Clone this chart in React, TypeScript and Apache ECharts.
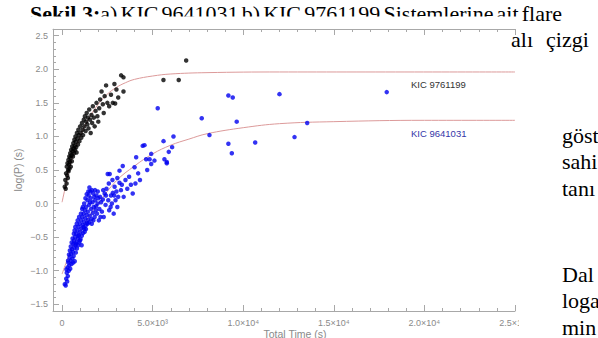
import React, { useEffect, useRef } from "react";
import * as echarts from "echarts";

const xTickValues = [0, 5000, 10000, 15000, 20000, 25000];
const xTickLabels = ["0", "5.0×10³", "1.0×10⁴", "1.5×10⁴", "2.0×10⁴", "2.5×10⁴"];
const yTickValues = [-1.5, -1.0, -0.5, 0.0, 0.5, 1.0, 1.5, 2.0, 2.5];
const yTickLabels = ["−1.5", "−1.0", "−0.5", "0.0", "0.5", "1.0", "1.5", "2.0", "2.5"];

// KIC 9761199 (black)
const blackPoints: [number, number][] = [
  [150, 0.25], [180, 0.35], [200, 0.22], [220, 0.45], [250, 0.3], [260, 0.55], [280, 0.42], [300, 0.6],
  [320, 0.38], [330, 0.5], [350, 0.65], [360, 0.48], [380, 0.58], [400, 0.7], [410, 0.52], [430, 0.62],
  [450, 0.75], [460, 0.68], [480, 0.55], [500, 0.8], [520, 0.72], [540, 0.63], [560, 0.85], [580, 0.78],
  [600, 0.7], [620, 0.9], [640, 0.82], [660, 0.75], [680, 0.95], [700, 0.86], [720, 0.8], [740, 1.0],
  [760, 0.92], [780, 0.84], [800, 0.76], [820, 1.05], [850, 0.97], [880, 0.88], [900, 1.1], [930, 1.02],
  [960, 0.93], [1000, 1.15], [1030, 1.05], [1060, 0.98], [1100, 1.2], [1130, 1.1], [1160, 1.02], [1200, 1.25],
  [1230, 1.15], [1260, 1.3], [1300, 1.08], [1330, 1.22], [1360, 1.35], [1400, 1.18], [1430, 1.28], [1460, 1.12],
  [1500, 1.4], [1540, 1.25], [1580, 1.05], [1620, 1.32], [1660, 1.2], [1700, 1.45], [1750, 1.28], [1800, 1.15],
  [1850, 1.38], [1900, 1.5], [1950, 1.3], [2000, 1.22], [2050, 1.42], [2100, 1.55], [2180, 1.67], [2250, 1.48],
  [2300, 1.35], [2350, 1.6], [2430, 1.76], [2500, 1.5], [2600, 1.45], [2700, 1.62], [2800, 1.5], [2890, 1.78],
  [2930, 1.49], [3000, 1.7], [3100, 1.58], [3260, 1.91], [3390, 1.88], [3390, 1.67], [5596, 1.84], [6440, 1.84],
  [6850, 2.13],
];

// KIC 9641031 (blue)
const bluePoints: [number, number][] = [
  [150, -1.2], [200, -1.22], [230, -1.12], [260, -1.03], [280, -1.16], [300, -0.95], [320, -1.08], [350, -0.88],
  [370, -1.0], [400, -0.92], [420, -0.8], [450, -0.97], [470, -0.85], [500, -0.75], [520, -0.9], [550, -0.68],
  [570, -0.82], [600, -0.72], [620, -0.6], [640, -0.78], [660, -0.55], [680, -0.66], [700, -0.86], [720, -0.5],
  [740, -0.62], [760, -0.73], [780, -0.45], [800, -0.57], [820, -0.67], [850, -0.4], [870, -0.52], [890, -0.62],
  [910, -0.35], [930, -0.47], [950, -0.58], [980, -0.3], [1000, -0.42], [1020, -0.53], [1050, -0.25], [1070, -0.37],
  [1090, -0.48], [1120, -0.2], [1140, -0.32], [1160, -0.44], [1190, -0.15], [1210, -0.27], [1230, -0.38], [1260, -0.1],
  [1280, -0.22], [1300, -0.33], [1330, -0.05], [1350, -0.17], [1370, -0.29], [1400, 0.05], [1420, -0.12], [1440, -0.24],
  [1470, 0.12], [1490, -0.02], [1510, 0.24], [1530, -0.18], [1560, 0.18], [1580, 0.08], [1600, -0.08], [1620, -0.23],
  [1650, 0.2], [1680, 0.02], [1700, -0.14], [1720, 0.15], [1750, -0.05], [1780, 0.1], [1800, -0.2], [1830, 0.05],
  [1860, -0.1], [1880, -0.04], [1900, 0.12], [1930, -0.15], [1960, 0.0], [2000, 0.08], [2030, -0.25], [2060, -0.08],
  [2100, 0.1], [2150, 0.02], [2200, -0.12], [2250, 0.06], [2300, -0.2], [2350, 0.15], [2400, -0.02], [2450, 0.22],
  [2520, 0.44], [2550, 0.05], [2600, -0.1], [2630, 0.44], [2700, 0.12], [2750, 0.0], [2800, 0.16], [2850, -0.15],
  [2900, 0.25], [2950, 0.05], [3000, 0.18], [3050, -0.05], [3100, 0.1], [3170, 0.31], [3170, 0.49], [3250, 0.2],
  [3350, 0.56], [3400, 0.1], [3500, 0.35], [3600, 0.22], [3700, 0.4], [3800, 0.28], [3900, 0.15], [4000, 0.54],
  [4050, 0.3], [4090, 0.69], [4200, 0.45], [4300, 0.35], [4450, 0.86], [4550, 0.87], [4640, 0.66], [4700, 0.5],
  [4830, 0.66], [4920, 0.74], [4920, 0.59], [5100, 0.64], [5280, 1.42], [5600, 0.93], [5650, 0.66], [5780, 0.62],
  [5780, 0.6], [5890, 0.77], [6075, 0.84], [6150, 1.0], [7710, 1.27], [8135, 1.02], [9180, 1.61], [9420, 1.58],
  [9640, 1.22], [9180, 0.89], [9370, 0.75], [10660, 0.91], [12000, 1.63], [12830, 0.99], [13530, 1.2], [17920, 1.66],
  [240, -0.98], [330, -0.85], [380, -0.76], [430, -0.7], [480, -0.64], [530, -0.58], [580, -0.52], [610, -0.88],
  [650, -0.45], [690, -0.4], [730, -0.35], [770, -0.6], [810, -0.3], [860, -0.25], [900, -0.48], [940, -0.2],
  [990, -0.55], [1040, -0.15], [1080, -0.62], [1110, -0.08], [1150, -0.05], [1180, -0.35], [1220, 0.0], [1250, -0.42],
  [1290, 0.08], [1320, -0.38], [1360, 0.14], [1410, -0.3], [1450, 0.18], [1500, -0.28], [1550, 0.02], [1640, -0.3],
  [1730, -0.25], [1820, 0.2], [1970, 0.18], [2120, -0.2], [2270, 0.2], [2420, 0.12], [2580, 0.3], [2680, -0.05],
  [2780, 0.35], [2880, 0.12], [3050, 0.38], [3300, 0.28],
];

// fitted curves
const blackFit: [number, number][] = [
  [0, 0.02], [250, 0.33], [500, 0.62], [1000, 1.0], [1500, 1.28], [2000, 1.48], [2500, 1.63], [3000, 1.73],
  [3500, 1.8], [4000, 1.85], [5000, 1.9], [6000, 1.93], [8000, 1.95], [12000, 1.96], [25000, 1.96],
];
const blueFit: [number, number][] = [
  [0, -1.05], [250, -0.86], [500, -0.68], [1000, -0.42], [1500, -0.19], [2000, 0.0], [3000, 0.34], [4000, 0.56],
  [5000, 0.74], [6000, 0.87], [7000, 0.96], [8000, 1.04], [10000, 1.13], [12000, 1.19], [15000, 1.22],
  [20000, 1.24], [25000, 1.24],
];

const seriesNames = ["KIC 9761199", "KIC 9641031"];

// surrounding page text
const captionBold = "Şekil 3:";
const captionWords = ["a)", "KIC", "9641031", "b)", "KIC", "9761199", "Sistemlerine", "ait", "flare"];
const pageLines: { words: string[]; xs: number[]; y: number }[] = [
  { words: ["alı", "çizgi"], xs: [511, 546], y: 50 },
  { words: ["göst"], xs: [562], y: 146 },
  { words: ["sahi"], xs: [562], y: 172 },
  { words: ["tanı"], xs: [562], y: 199 },
  { words: ["Dal"], xs: [562], y: 285 },
  { words: ["loga"], xs: [562], y: 311 },
  { words: ["min"], xs: [562], y: 338 },
];

const AXIS = "#a8a8a8";
const LABEL = "#8a8a8a";
const FONT = "Liberation Sans";
const SERIF = "Liberation Serif";
const PAGE_SIZE = 22;

function range(a: number, b: number, step: number): number[] {
  const out: number[] = [];
  for (let v = a; v <= b + 1e-9; v += step) out.push(Math.round(v * 1000) / 1000);
  return out;
}

export default function App() {
  const ref = useRef<HTMLDivElement>(null);
  useEffect(() => {
    if (!ref.current) return;
    const chart = echarts.init(ref.current, null, { renderer: "svg" });
    const ctx = document.createElement("canvas").getContext("2d")!;
    const measure = (t: string, font: string) => {
      ctx.font = font;
      return ctx.measureText(t).width;
    };
    const fontR = `${PAGE_SIZE}px ${SERIF}`;
    const fontB = `bold ${PAGE_SIZE}px ${SERIF}`;

    // caption: justified from x=30 to x=562
    const capLeft = 30;
    const capRight = 562;
    const boldW = measure(captionBold, fontB);
    const wordsW = captionWords.reduce((s, w) => s + measure(w, fontR), 0);
    const gap = (capRight - capLeft - boldW - wordsW) / (captionWords.length - 1);
    const captionEls: any[] = [
      {
        type: "text",
        x: capLeft,
        y: 24,
        z: 50,
        style: { text: captionBold, fill: "#000", font: fontB, textVerticalAlign: "bottom" },
      },
    ];
    let cx = capLeft + boldW;
    captionWords.forEach((w) => {
      captionEls.push({
        type: "text",
        x: cx,
        y: 24,
        z: 50,
        style: { text: w, fill: "#000", font: fontR, textVerticalAlign: "bottom" },
      });
      cx += measure(w, fontR) + gap;
    });

    const pageEls: any[] = [];
    pageLines.forEach((l) => {
      l.words.forEach((w, i) => {
        pageEls.push({
          type: "text",
          x: l.xs[i],
          y: l.y,
          z: 70,
          style: { text: w, fill: "#000", font: fontR, textVerticalAlign: "bottom" },
        });
      });
    });

    const xMinor = range(0, 25000, 1000);
    const yMinor = range(-1.5, 2.6, 0.1);
    const grid = { left: 53, top: 29, right: 83, bottom: 27, outerBoundsMode: "none", containLabel: false };
    const xBase = {
      type: "value",
      min: -500,
      max: 25000,
      splitLine: { show: false },
    };
    const yBase = {
      type: "value",
      min: -1.6,
      max: 2.6,
      splitLine: { show: false },
    };
    const xLabelMap: Record<string, string> = {};
    xTickValues.forEach((v, i) => (xLabelMap[String(v)] = xTickLabels[i]));
    const yLabelMap: Record<string, string> = {};
    yTickValues.forEach((v, i) => (yLabelMap[v.toFixed(1)] = yTickLabels[i]));

    chart.setOption({
      animation: false,
      backgroundColor: "#ffffff",
      grid,
      xAxis: [
        {
          ...xBase,
          position: "bottom",
          axisLine: { show: true, onZero: false, lineStyle: { color: AXIS, width: 1 } },
          axisTick: { show: true, inside: true, length: 6, customValues: xTickValues, lineStyle: { color: AXIS } },
          axisLabel: {
            show: true,
            customValues: xTickValues,
            formatter: (v: number) => xLabelMap[String(v)] ?? "",
            color: LABEL,
            fontFamily: FONT,
            fontSize: 9,
            margin: 7,
          },
          name: "Total Time (s)",
          nameLocation: "middle",
          nameGap: 17,
          nameMoveOverlap: false,
          nameTextStyle: { color: LABEL, fontFamily: FONT, fontSize: 10.5, padding: [0, 0, 0, 22] },
        },
        {
          ...xBase,
          position: "bottom",
          axisLine: { show: false, onZero: false },
          axisTick: { show: true, inside: true, length: 3, customValues: xMinor, lineStyle: { color: AXIS } },
          axisLabel: { show: false },
        },
        {
          ...xBase,
          position: "top",
          axisLine: { show: true, onZero: false, lineStyle: { color: AXIS, width: 1 } },
          axisTick: { show: true, inside: true, length: 6, customValues: xTickValues, lineStyle: { color: AXIS } },
          axisLabel: { show: false },
        },
        {
          ...xBase,
          position: "top",
          axisLine: { show: false, onZero: false },
          axisTick: { show: true, inside: true, length: 3, customValues: xMinor, lineStyle: { color: AXIS } },
          axisLabel: { show: false },
        },
      ],
      yAxis: [
        {
          ...yBase,
          position: "left",
          axisLine: { show: true, onZero: false, lineStyle: { color: AXIS, width: 1 } },
          axisTick: { show: true, inside: true, length: 6, customValues: yTickValues, lineStyle: { color: AXIS } },
          axisLabel: {
            show: true,
            customValues: yTickValues,
            formatter: (v: number) => yLabelMap[Number(v).toFixed(1)] ?? "",
            color: LABEL,
            fontFamily: FONT,
            fontSize: 9,
            margin: 5,
          },
          name: "log(P) (s)",
          nameLocation: "middle",
          nameGap: 30,
          nameRotate: 90,
          nameMoveOverlap: false,
          nameTextStyle: { color: LABEL, fontFamily: FONT, fontSize: 10.5 },
        },
        {
          ...yBase,
          position: "left",
          axisLine: { show: false, onZero: false },
          axisTick: { show: true, inside: true, length: 3, customValues: yMinor, lineStyle: { color: AXIS } },
          axisLabel: { show: false },
        },
      ],
      series: [
        {
          name: seriesNames[0] + " fit",
          type: "line",
          data: blackFit,
          smooth: 0.4,
          showSymbol: false,
          symbol: "none",
          lineStyle: { color: "#dc9a9a", width: 1 },
          z: 1,
        },
        {
          name: seriesNames[1] + " fit",
          type: "line",
          data: blueFit,
          smooth: 0.4,
          showSymbol: false,
          symbol: "none",
          lineStyle: { color: "#dc9a9a", width: 1 },
          z: 1,
        },
        {
          name: seriesNames[0],
          type: "scatter",
          data: blackPoints,
          symbol: "circle",
          symbolSize: 4.5,
          itemStyle: { color: "#000000" },
          z: 3,
        },
        {
          name: seriesNames[1],
          type: "scatter",
          data: bluePoints,
          symbol: "circle",
          symbolSize: 4.5,
          itemStyle: { color: "#0000f0" },
          z: 3,
        },
      ],
      graphic: [
        {
          type: "text",
          left: 411,
          top: 79,
          z: 10,
          style: { text: seriesNames[0], fill: "#333333", font: `9.5px ${FONT}` },
        },
        {
          type: "text",
          left: 411,
          top: 128,
          z: 10,
          style: { text: seriesNames[1], fill: "#3535a8", font: `9.5px ${FONT}` },
        },
        ...captionEls,
        {
          type: "rect",
          shape: { x: 0, y: 16.5, width: 519, height: 12 },
          z: 51,
          style: { fill: "#ffffff" },
        },
        {
          type: "rect",
          shape: { x: 519, y: 290, width: 79, height: 48 },
          z: 60,
          style: { fill: "#ffffff" },
        },
        ...pageEls,
      ],
    });
    return () => chart.dispose();
  }, []);
  return (
    <div
      ref={ref}
      style={{ position: "absolute", left: 0, top: 0, width: 598, height: 338, background: "#fff" }}
    />
  );
}
